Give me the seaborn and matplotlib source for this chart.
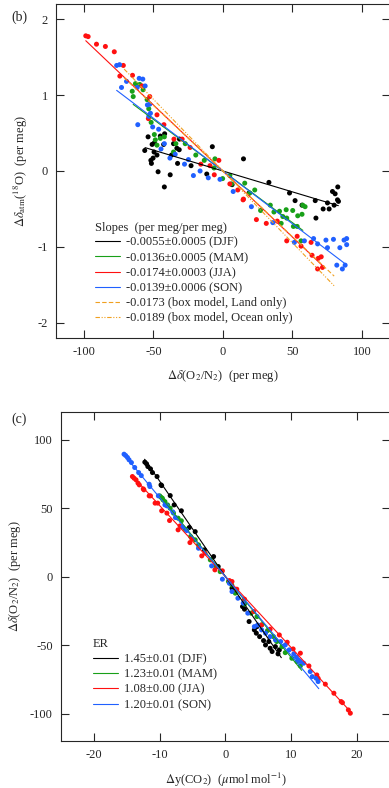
import numpy as np
import pandas as pd
import seaborn as sns
import matplotlib
matplotlib.use('Agg')
import matplotlib.pyplot as plt

sns.set_style('ticks')
plt.rcParams['font.family'] = ['Liberation Serif', 'DejaVu Serif']
plt.rcParams['mathtext.fontset'] = 'stix'
plt.rcParams['axes.unicode_minus'] = False
plt.rcParams['font.size'] = 9

seasons = ['DJF', 'MAM', 'JJA', 'SON']
colors = {'DJF': '#000000', 'MAM': '#18a018', 'JJA': '#ff1010', 'SON': '#2060ff'}

# ---- panel (b): d(O2/N2) vs d18O of atm (per meg)
b_djf_x = [-56.2, -53.8, -50.9, -49.3, -49.5, -50.2, -51.8, -51.4, -47.4, -46.6, -45.0, -42.6,
           -41.9, -42.1, -37.9, -35.5, -36.9, -33.1, -32.6, -31.2, -31.4, -22.9, -11.6, -7.6,
           6.6, 14.8, 18.8, 33.1, 47.9, 51.9, 56.9, 66.4, 66.9, 72.1, 75.2, 76.4, 78.8, 80.7,
           82.6, 82.4, 83.1, 80.0]
b_djf_y = [0.27, 0.45, 0.35, 0.37, 0.25, 0.17, 0.14, 0.10, 0.21, -0.01, 0.46, 0.35,
           0.49, -0.21, -0.05, 0.36, 0.21, 0.30, 0.10, 0.42, 0.28, 0.07, -0.04, 0.32,
           -0.18, 0.16, -0.29, -0.15, -0.29, -0.39, -0.45, -0.39, -0.62, -0.50, -0.42, -0.50,
           -0.27, -0.30, -0.21, -0.38, -0.40, -0.45]
b_mam_x = [-65.2, -64.5, -62.9, -59.8, -57.4, -54.5, -53.3, -51.6, -49.3, -48.6, -47.4, -45.0,
           -42.1, -35.5, -33.8, -27.1, -19.5, -13.4, -5.7, -6.4, -0.2, 5.0, 6.2, 15.7, 22.9,
           19.3, 27.1, 34.1, 36.7, 40.7, 43.1, 45.5, 50.2, 53.8, 56.9, 57.4, 59.1, 50.7, 53.4,
           41.9, 56.2, 45.9]
b_mam_y = [1.05, 0.98, 1.15, 1.14, 1.07, 0.94, 0.82, 0.64, 0.48, 0.41, 0.34, 0.43,
           0.45, 0.25, 0.36, 0.36, 0.21, 0.14, 0.16, 0.04, -0.10, -0.06, -0.17, -0.16, -0.25,
           -0.29, -0.52, -0.45, -0.54, -0.53, -0.60, -0.51, -0.52, -0.59, -0.57, -0.45, -0.47,
           -0.73, -0.73, -0.69, -0.92, -0.62]
b_jja_x = [-98.6, -96.9, -90.9, -84.5, -78.1, -71.6, -74.1, -65.0, -58.1, -52.6, -53.6, -47.4,
           -42.4, -35.2, -29.3, -23.6, -15.9, -9.3, -2.9, -6.2, 5.0, 10.7, 14.8, 14.5, 24.1,
           31.2, 39.1, 45.9, 53.4, 56.2, 63.4, 64.1, 68.6, 70.7, 68.1, 71.6]
b_jja_y = [1.78, 1.77, 1.67, 1.64, 1.57, 1.39, 1.25, 1.26, 1.12, 0.98, 0.69, 0.74,
           0.61, 0.42, 0.42, 0.31, 0.09, 0.07, 0.14, -0.05, -0.17, -0.25, -0.37, -0.38, -0.64,
           -0.69, -0.66, -0.92, -0.86, -0.99, -0.94, -1.11, -1.15, -1.13, -1.29, -1.27]
b_son_x = [-76.4, -74.3, -72.9, -69.3, -61.6, -60.2, -57.6, -55.9, -54.3, -52.6, -52.1, -53.3,
           -61.2, -50.5, -46.2, -42.1, -44.5, -38.1, -34.3, -27.6, -24.8, -21.2, -16.4, -10.5,
           -2.1, 7.4, 20.5, 35.9, 51.4, 58.6, 65.2, 68.1, 74.1, 75.2, 79.5, 84.1, 87.1, 89.0,
           89.0, 81.9, 85.9, 87.9]
b_son_y = [1.39, 1.40, 1.10, 1.18, 1.10, 1.22, 1.21, 1.12, 0.87, 0.88, 0.76, 0.72,
           0.61, 0.58, 0.55, 0.36, 0.29, 0.17, 0.22, 0.09, 0.15, -0.06, 0.00, -0.09,
           -0.11, -0.27, -0.47, -0.68, -0.94, -0.92, -0.89, -0.96, -0.91, -1.01, -0.90, -1.01,
           -0.91, -0.89, -0.97, -1.24, -1.29, -1.24]

b_slopes = [-0.0055, -0.0136, -0.0174, -0.0139]
b_errs = ['0.0005', '0.0005', '0.0003', '0.0006']
b_ranges = [(-56, 83), (-64.5, 57.5), (-98.6, 71.6), (-76.4, 88.5)]
model_slopes = [-0.0173, -0.0189]
model_labels = ['box model, Land only', 'box model, Ocean only']
model_range = (-71, 80)

# ---- panel (c): d(CO2) vs d(O2/N2)
c_djf_x = [-12.26, -12.0, -11.8, -11.4, -11.1, -10.4, -9.8, -9.7, -8.4, -7.8, -6.7, -5.5,
           -4.6, -3.2, -1.8, -1.1, 1.0, 2.6, 2.9, 3.6, 4.4, 4.8, 4.7, 5.2, 5.8, 6.1, 6.6,
           6.8, 7.1, 7.6, 8.0, 8.2]
c_djf_y = [83.5, 82.3, 80.3, 78.6, 75.9, 73.0, 66.9, 66.4, 59.1, 52.3, 48.0, 35.8,
           32.8, 19.5, 14.6, 7.3, -8.5, -21.9, -23.8, -32.8, -38.9, -36.5, -41.3, -43.8,
           -46.7, -49.9, -47.4, -52.3, -54.7, -51.1, -56.4, -53.5]
c_mam_x = [-10.0, -9.8, -9.6, -9.5, -9.2, -8.8, -8.4, -7.9, -7.2, -6.7, -6.1, -5.3, -4.6,
           -4.1, -2.3, -1.5, -0.8, 0.46, 0.96, 1.5, 2.9, 3.9, 4.8, 5.5, 6.4, 7.3, 7.8, 8.6,
           9.1, 10.1, 10.9, 11.4]
c_mam_y = [58.9, 57.9, 57.2, 56.0, 54.7, 52.3, 49.9, 46.3, 42.6, 40.7, 34.6, 29.2, 26.8,
           23.1, 12.2, 7.8, 3.6, -3.6, -6.1, -12.1, -20.1, -26.7, -29.2, -35.3, -39.4, -43.8,
           -47.4, -51.1, -55.5, -59.6, -62.0, -65.2]
c_jja_x = [-14.15, -13.9, -13.6, -13.3, -13.1, -12.5, -12.4, -11.6, -11.4, -10.7, -10.3,
           -9.7, -8.9, -8.5, -7.2, -6.9, -5.4, -5.1, -3.6, -3.1, -1.6, -0.46, 0.6, 1.0, 1.73,
           2.9, 4.3, 5.5, 6.8, 8.2, 9.4, 10.3, 11.4, 12.7, 13.9, 14.1, 15.2, 16.5, 17.6, 17.8,
           18.7, 19.0]
c_jja_y = [73.0, 71.8, 70.6, 68.2, 66.9, 64.0, 63.3, 58.9, 58.9, 53.6, 53.6,
           48.0, 46.3, 40.9, 34.1, 37.0, 24.8, 27.5, 15.1, 17.1, 4.9, 4.2, -2.9, -3.6, -9.2,
           -16.5, -25.5, -35.3, -38.4, -42.6, -47.9, -52.8, -55.9, -65.2, -71.8, -74.2, -78.5,
           -85.1, -91.2, -92.0, -97.3, -99.7]
c_son_x = [-15.42, -15.17, -14.9, -14.66, -14.3, -13.8, -13.2, -12.8, -11.6, -11.5, -10.2,
           -9.2, -8.9, -8.0, -7.6, -6.5, -5.9, -4.1, -2.1, -0.46, 0.6, 1.0, 1.9, 2.7, 3.4,
           4.4, 4.9, 5.5, 6.1, 6.8, 7.6, 8.4, 9.1, 9.7, 10.4, 10.8, 11.1, 11.4, 11.9, 12.9,
           13.2, 13.8, 14.1]
c_son_y = [89.3, 88.3, 86.9, 85.2, 83.2, 79.6, 75.9, 73.7, 67.4, 65.7, 58.9,
           52.3, 51.6, 47.2, 43.1, 36.1, 33.6, 20.7, 7.8, -1.9, -4.9, -10.9, -15.8, -19.4, -26.7,
           -36.5, -35.3, -38.9, -41.3, -43.8, -46.2, -47.4, -49.9, -53.5, -56.4, -58.8, -60.8,
           -62.0, -63.2, -69.3, -73.0, -74.2, -76.6]

er_values = ['1.45', '1.23', '1.08', '1.20']
er_errs = ['0.01', '0.01', '0.00', '0.01']
c_slopes = [-6.96, -5.90, -5.18, -5.76]  # per meg per ppm
c_ranges = [(-12.3, 8.5), (-10.0, 11.6), (-14.2, 19.1), (-15.4, 14.2)]

def make_df(xs, ys):
    rows = []
    for s, x, y in zip(seasons, xs, ys):
        rows.append(pd.DataFrame({'x': x, 'y': y, 'season': s}))
    return pd.concat(rows)

dfb = make_df([b_djf_x, b_mam_x, b_jja_x, b_son_x], [b_djf_y, b_mam_y, b_jja_y, b_son_y])
dfc = make_df([c_djf_x, c_mam_x, c_jja_x, c_son_x], [c_djf_y, c_mam_y, c_jja_y, c_son_y])

fig = plt.figure(figsize=(3.89, 7.88), dpi=100)
axb = fig.add_axes([0.144, 0.571, 0.858, 0.424])
axc = fig.add_axes([0.157, 0.0596, 0.845, 0.4174])

# panel b
sns.scatterplot(data=dfb, x='x', y='y', hue='season', palette=colors, s=13,
                linewidth=0, legend=False, ax=axb, zorder=2)
for s, m, e, (x0, x1) in zip(seasons, b_slopes, b_errs, b_ranges):
    xx = np.array([x0, x1])
    axb.plot(xx, m * xx, color=colors[s], lw=0.8, zorder=3,
             label=f'{m:.4f}\u00b1{e} ({s})')
xx = np.array(model_range)
axb.plot(xx, model_slopes[0] * xx, color='#f0a020', lw=0.8, ls=(0, (4, 2)), zorder=3,
         label=f'{model_slopes[0]:.4f} ({model_labels[0]})')
axb.plot(xx, model_slopes[1] * xx, color='#f0a020', lw=0.8, ls=(0, (4, 1.5, 1, 1.5, 1, 1.5)),
         zorder=3, label=f'{model_slopes[1]:.4f} ({model_labels[1]})')
axb.set_xlim(-120, 120)
axb.set_ylim(-2.2, 2.2)
axb.set_xticks([-100, -50, 0, 50, 100])
axb.set_yticks([-2, -1, 0, 1, 2])
axb.set_xlabel(r'$\Delta\delta$(O$_2$/N$_2$)  (per meg)', labelpad=7)
axb.set_ylabel(r'$\Delta\delta_{\rm atm}$($^{18}$O)  (per meg)', labelpad=5)
leg = axb.legend(loc='lower left', bbox_to_anchor=(0.09, 0.015), frameon=False,
                 title='Slopes  (per meg/per meg)', fontsize=9, title_fontsize=9,
                 handlelength=2.0, handletextpad=0.5, labelspacing=0.25, borderpad=0.2)
leg._legend_box.align = 'left'

# panel c
sns.scatterplot(data=dfc, x='x', y='y', hue='season', palette=colors, s=13,
                linewidth=0, legend=False, ax=axc, zorder=2)
for s, m, v, e, (x0, x1) in zip(seasons, c_slopes, er_values, er_errs, c_ranges):
    xx = np.array([x0, x1])
    axc.plot(xx, m * xx, color=colors[s], lw=0.8, zorder=3, label=f'{v}\u00b1{e} ({s})')
axc.set_xlim(-25, 25)
axc.set_ylim(-120, 120)
axc.set_xticks([-20, -10, 0, 10, 20])
axc.set_yticks([-100, -50, 0, 50, 100])
axc.set_xlabel(r'$\Delta$y(CO$_2$)  ($\mu$mol mol$^{-1}$)', labelpad=7)
axc.set_ylabel(r'$\Delta\delta$(O$_2$/N$_2$)  (per meg)', labelpad=5)
leg = axc.legend(loc='lower left', bbox_to_anchor=(0.07, 0.065), frameon=False,
                 title='ER', fontsize=9, title_fontsize=9,
                 handlelength=2.0, handletextpad=0.5, labelspacing=0.25, borderpad=0.2)
leg._legend_box.align = 'left'

for ax in (axb, axc):
    ax.tick_params(direction='in', length=6, width=0.8, top=True, right=True,
                   labelsize=9, pad=6)
    for sp in ax.spines.values():
        sp.set_linewidth(0.8)

fig.text(0.03, 0.987, '(b)', fontsize=10, va='top')
fig.text(0.03, 0.477, '(c)', fontsize=10, va='top')

fig.savefig('out.png', dpi=100)
